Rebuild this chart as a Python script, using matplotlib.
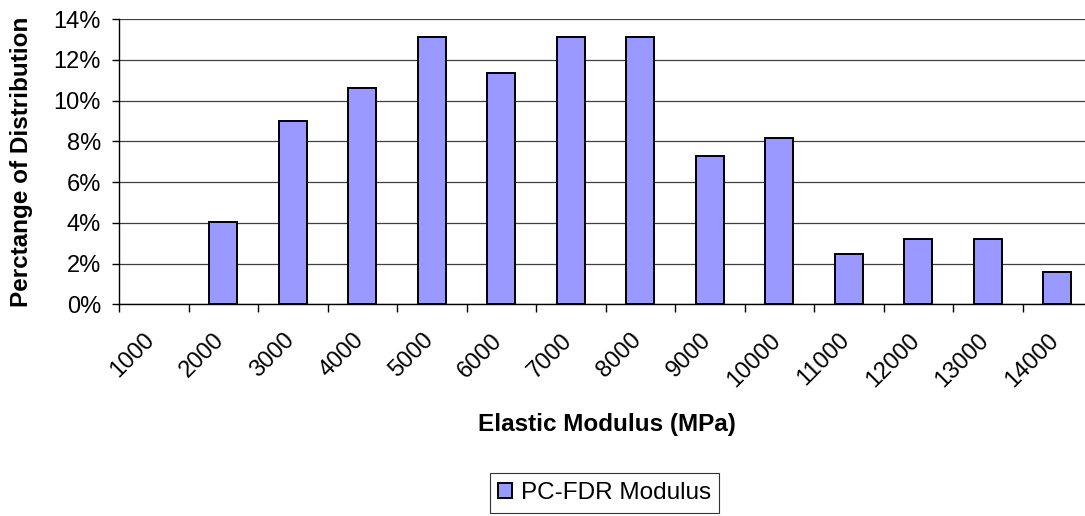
import numpy as np
import matplotlib.pyplot as plt
import matplotlib.transforms as mtransforms
from matplotlib.ticker import FuncFormatter

plt.rcParams['font.family'] = ['Liberation Sans', 'DejaVu Sans']

# modulus bins (MPa) and share of samples in each bin (%)
bins = ['1000', '2000', '3000', '4000', '5000', '6000', '7000',
        '8000', '9000', '10000', '11000', '12000', '13000', '14000']
percent = [0, 4.05, 9.0, 10.6, 13.1, 11.35, 13.1,
           13.1, 7.3, 8.15, 2.45, 3.2, 3.2, 1.6]

fig = plt.figure(figsize=(10.85, 5.16), dpi=100)
ax = fig.add_axes([119/1085, 1 - 304.3/516, 973/1085, 285.3/516])

x = np.arange(len(bins))
edges = ['none' if v == 0 else 'black' for v in percent]
ax.bar(x, percent, width=0.4, color='#9999ff', edgecolor=edges,
       linewidth=1.4, zorder=3)
# proxy for the legend so the handle keeps its black outline
ax.bar([0], [0], width=0, color='#9999ff', edgecolor='black',
       linewidth=1.4, label='PC-FDR Modulus')

ax.set_xlim(-0.5, len(bins) - 0.5)
ax.set_ylim(0, 14)
ax.set_yticks(np.arange(0, 15, 2))
ax.yaxis.set_major_formatter(FuncFormatter(lambda v, p: '%d%%' % v))
ax.grid(axis='y', color='#404040', linewidth=0.9, zorder=0)

# tick marks on category boundaries, labels at category centres
ax.set_xticks(x)
ax.set_xticks(np.arange(-0.5, len(bins), 1), minor=True)
ax.set_xticklabels(bins, rotation=45, ha='right', va='top',
                   rotation_mode='anchor', fontsize=17)
ax.tick_params(axis='x', which='major', length=0, pad=18)
ax.tick_params(axis='x', which='minor', length=6, width=1, color='black')
ax.tick_params(axis='y', length=5, width=1, labelsize=17, pad=8)

# nudge rotated labels a little to the left
shift = mtransforms.ScaledTranslation(-10/100, 0, fig.dpi_scale_trans)
for lab in ax.get_xticklabels():
    lab.set_transform(lab.get_transform() + shift)

for s in ['top', 'right']:
    ax.spines[s].set_visible(False)
for s in ['left', 'bottom']:
    ax.spines[s].set_color('black')
    ax.spines[s].set_linewidth(1)

ax.set_ylabel('Perctange of Distribution', fontsize=17.5, fontweight='bold',
              va='center')
ax.yaxis.set_label_coords((22 - 119) / 973, 0.5)
ax.set_xlabel('Elastic Modulus (MPa)', fontsize=17.5, fontweight='bold',
              va='center')
ax.xaxis.set_label_coords((607 - 119) / 973, (304.3 - 425) / 285.3)

leg = fig.legend(loc='center', bbox_to_anchor=(604.5/1085, 1 - 493/516),
                 fontsize=17.5, frameon=True, fancybox=False,
                 handlelength=0.58, handleheight=0.58, handletextpad=0.35,
                 borderpad=0.35, borderaxespad=0)
leg.get_frame().set_edgecolor('black')
leg.get_frame().set_linewidth(0.8)

fig.savefig('out.png', dpi=100)
